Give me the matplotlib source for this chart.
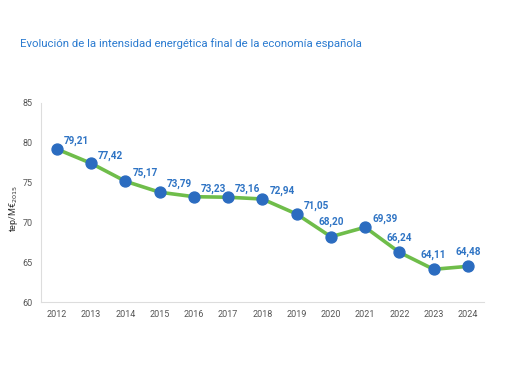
import matplotlib
matplotlib.use("Agg")
import matplotlib.pyplot as plt

years = [2012, 2013, 2014, 2015, 2016, 2017, 2018, 2019, 2020, 2021, 2022, 2023, 2024]
values = [79.21, 77.42, 75.17, 73.79, 73.23, 73.16, 72.94, 71.05, 68.20, 69.39, 66.24, 64.11, 64.48]
labels = ["79,21", "77,42", "75,17", "73,79", "73,23", "73,16", "72,94", "71,05", "68,20", "69,39", "66,24", "64,11", "64,48"]
above = [False, False, False, False, False, False, False, False, True, False, True, True, True]
yticks = [60, 65, 70, 75, 80, 85]

plt.rcParams['font.family'] = ['Roboto', 'DejaVu Sans']

fig = plt.figure(figsize=(5.10, 3.82), dpi=100)
ax = fig.add_axes([0.080, 0.2094, 0.869, 0.521])

ax.plot(years, values, color='#6fbd4a', lw=2.6, zorder=2)
ax.scatter(years, values, s=62, color='#2b6cc0', zorder=3)

for x, y, t, a in zip(years, values, labels, above):
    if a:
        ax.annotate(t, (x, y), xytext=(0, 7), textcoords='offset points',
                    ha='center', va='bottom', fontsize=7.2, color='#2f74c4', fontweight='bold')
    else:
        ax.annotate(t, (x, y), xytext=(5, 2), textcoords='offset points',
                    ha='left', va='bottom', fontsize=7.2, color='#2f74c4', fontweight='bold')

ax.set_xlim(2011.53, 2024.47)
ax.set_ylim(60, 85)
ax.set_xticks(years)
ax.set_xticklabels([str(y) for y in years])
ax.set_yticks(yticks)
ax.tick_params(length=0, labelsize=6.5, colors='#555555', pad=6)
for s in ['top', 'right']:
    ax.spines[s].set_visible(False)
for s in ['left', 'bottom']:
    ax.spines[s].set_color('#dddddd')
    ax.spines[s].set_linewidth(0.8)

ax.set_ylabel(r'tep/M€$_{2015}$', fontsize=6.5, color='#333333')
ax.yaxis.set_label_coords(-0.048, 0.47)

fig.text(0.039, 0.887, 'Evolución de la intensidad energética final de la economía española',
         fontsize=8.2, color='#2b7bd0', ha='left', va='center')

fig.savefig('out.png', dpi=100)
